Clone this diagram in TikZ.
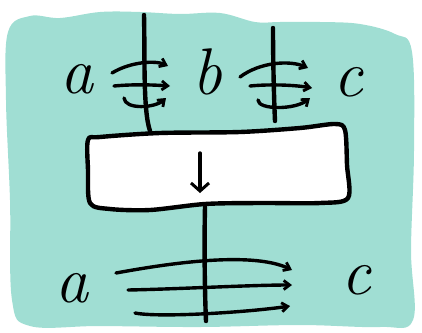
\documentclass[tikz,border=0pt]{standalone}
\usepackage{fontspec}
\usetikzlibrary{arrows.meta}
\definecolor{bgteal}{HTML}{A0DED3}
\tikzset{
  ink/.style={line width=4.4pt, line cap=round, line join=round, black},
  thin ink/.style={line width=3.4pt, line cap=round, line join=round, black},
  spin/.style={thin ink, -{Straight Barb[length=6pt,width=9pt,line width=2.8pt]}},
  lbl/.style={font=\fontsize{66}{66}\selectfont\itshape, inner sep=0pt}
}
\begin{document}
\begin{tikzpicture}[x=1pt,y=-1pt]
\useasboundingbox (0,0) rectangle (422,332);
% background blob
\fill[bgteal] plot[smooth cycle, tension=0.6] coordinates {
  (8,32) (30,16) (60,18) (100,12) (140,12) (180,14) (220,13) (255,22)
  (280,22) (320,22) (360,24) (395,34) (412,52) (414,150) (411,250)
  (413,320) (380,327) (300,325) (200,327) (100,326) (30,326) (12,300)
  (10,200) (6,100)};

% top strands
\coordinate (t1) at (144,15);
\coordinate (t1b) at (150,131);
\coordinate (t2) at (273,28);
\coordinate (t2b) at (275,121);
\draw[ink] (t1) .. controls (145,60) and (143,110) .. (t1b);
\draw[ink] (t2) .. controls (273,60) and (274,100) .. (t2b);

% labels top
\node[lbl] (a1) at (77,79) {a};
\node[lbl] (b1) at (207,72) {b};
\node[lbl] (c1) at (348,82) {c};

% spin arrows around strand 1
\coordinate (s1a) at (112,73); \coordinate (e1a) at (168,66);
\coordinate (s1b) at (114,86); \coordinate (e1b) at (170,86);
\coordinate (s1c) at (124,98); \coordinate (e1c) at (166,98);
\draw[spin] (s1a) .. controls (130,62) and (155,60) .. (e1a);
\draw[spin] (s1b) .. controls (135,84) and (155,85) .. (e1b);
\draw[spin] (s1c) .. controls (125,110) and (155,108) .. (e1c);

% spin arrows around strand 2
\coordinate (s2a) at (240,77); \coordinate (e2a) at (308,68);
\coordinate (s2b) at (250,86); \coordinate (e2b) at (312,88);
\coordinate (s2c) at (258,100); \coordinate (e2c) at (310,98);
\draw[spin] (s2a) .. controls (260,62) and (290,60) .. (e2a);
\draw[spin] (s2b) .. controls (270,84) and (295,85) .. (e2b);
\draw[spin] (s2c) .. controls (258,110) and (295,110) .. (e2c);

% box
\draw[ink, fill=white] plot[smooth cycle, tension=0.5] coordinates {
  (88,140) (100,137) (160,133) (240,132) (300,128) (335,124) (345,130)
  (347,165) (348,198) (320,203) (260,203) (205,204) (150,210) (110,209)
  (90,203) (88,170)};
\node[inner sep=0pt, minimum width=250pt, minimum height=60pt] (box) at (218,168) {};
\coordinate (ar1) at (200,153);
\coordinate (ar2) at (200,193);
\draw[thin ink, -{Straight Barb[length=8pt,width=18pt,line width=3pt]}] (ar1) -- (ar2);

% bottom strand
\coordinate (bt) at (205,207);
\coordinate (bb) at (206,321);
\draw[ink] (bt) .. controls (204,250) and (205,300) .. (bb);

% labels bottom
\node[lbl] (a2) at (72,288) {a};
\node[lbl] (c2) at (356,280) {c};

% bottom rotation arrows
\coordinate (s3a) at (116,273); \coordinate (e3a) at (292,270);
\coordinate (s3b) at (128,290); \coordinate (e3b) at (292,285);
\coordinate (s3c) at (135,313); \coordinate (e3c) at (290,306);
\draw[spin] (s3a) .. controls (160,265) and (250,250) .. (e3a);
\draw[spin] (s3b) .. controls (180,289) and (250,285) .. (e3b);
\draw[spin] (s3c) .. controls (160,318) and (250,312) .. (e3c);
\end{tikzpicture}
\end{document}
